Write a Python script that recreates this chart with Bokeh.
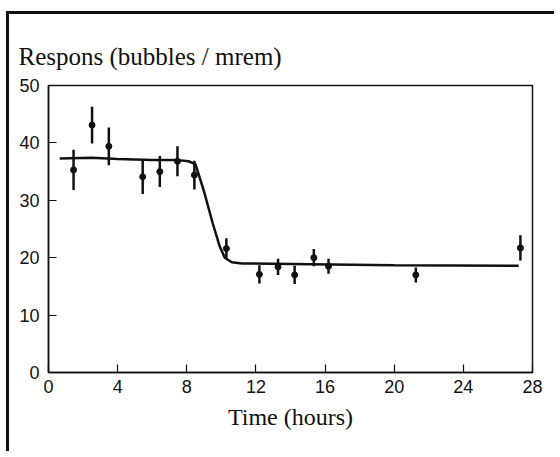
from bokeh.plotting import figure
from bokeh.models import FixedTicker, Title, ColumnDataSource
from bokeh.embed import file_html
from bokeh.resources import INLINE

# Measured points (time in hours, response, half error bar)
t_pts = [1.45, 2.52, 3.49, 5.45, 6.44, 7.46, 8.44, 10.29, 12.2, 13.28, 14.24, 15.35, 16.2, 21.25, 27.3]
r_pts = [35.3, 43.1, 39.4, 34.1, 35.0, 36.8, 34.4, 21.6, 17.1, 18.4, 17.0, 20.0, 18.5, 17.0, 21.7]
r_err = [3.5, 3.2, 3.3, 3.0, 2.7, 2.6, 2.5, 1.8, 1.6, 1.4, 1.6, 1.5, 1.3, 1.3, 2.2]

# Fitted curve
t_fit = [0.65, 2.5, 4.0, 6.0, 7.5, 8.1, 8.5, 9.0, 9.5, 9.9, 10.2, 10.6, 11.2, 14.0, 20.0, 27.2]
r_fit = [37.3, 37.4, 37.2, 37.0, 37.0, 36.8, 36.3, 31.5, 26.0, 22.0, 20.0, 19.2, 19.0, 18.9, 18.7, 18.6]

x_ticks = [0, 4, 8, 12, 16, 20, 24, 28]
y_ticks = [0, 10, 20, 30, 40, 50]

INK = "#111111"

p = figure(width=548, height=440, output_backend="svg", toolbar_location=None,
           x_range=(0, 28), y_range=(0, 50),
           min_border_left=39, min_border_right=25, min_border_top=71, min_border_bottom=82)
p.margin = (11, 0, 0, 6)
p.styles = {"border-left": "3px solid #111", "border-top": "3px solid #111"}

p.grid.visible = False
p.outline_line_color = INK
p.outline_line_width = 1.5
p.background_fill_color = "white"
p.border_fill_color = "white"

p.xaxis.ticker = FixedTicker(ticks=x_ticks)
p.yaxis.ticker = FixedTicker(ticks=y_ticks)
for ax in (p.xaxis, p.yaxis):
    ax.major_tick_in = 8
    ax.major_tick_out = 0
    ax.minor_tick_in = 0
    ax.minor_tick_out = 0
    ax.axis_line_color = INK
    ax.axis_line_width = 1.5
    ax.major_tick_line_color = INK
    ax.major_tick_line_width = 1.2
    ax.major_label_text_font = "Liberation Sans"
    ax.major_label_text_font_size = "18px"
    ax.major_label_text_color = INK
p.xaxis.major_label_standoff = 7
p.yaxis.major_label_standoff = 9

p.xaxis.axis_label = "Time (hours)"
p.xaxis.axis_label_text_font = "Liberation Serif"
p.xaxis.axis_label_text_font_style = "normal"
p.xaxis.axis_label_text_font_size = "24px"
p.xaxis.axis_label_text_color = INK
p.xaxis.axis_label_standoff = 8

title = Title(text="Respons (bubbles / mrem)", align="left", offset=-30, standoff=31,
              text_font="Liberation Serif", text_font_size="25px",
              text_font_style="normal", text_color=INK)
p.add_layout(title, "above")

p.line(t_fit, r_fit, line_color=INK, line_width=2.5)

src = ColumnDataSource(dict(
    t=t_pts, r=r_pts,
    lo=[r - e for r, e in zip(r_pts, r_err)],
    hi=[r + e for r, e in zip(r_pts, r_err)],
))
p.segment(x0="t", x1="t", y0="lo", y1="hi", source=src, line_color=INK, line_width=2.5)
p.scatter(x="t", y="r", source=src, size=6, fill_color=INK, line_color=INK)

open("out.html", "w").write(file_html(p, INLINE))
